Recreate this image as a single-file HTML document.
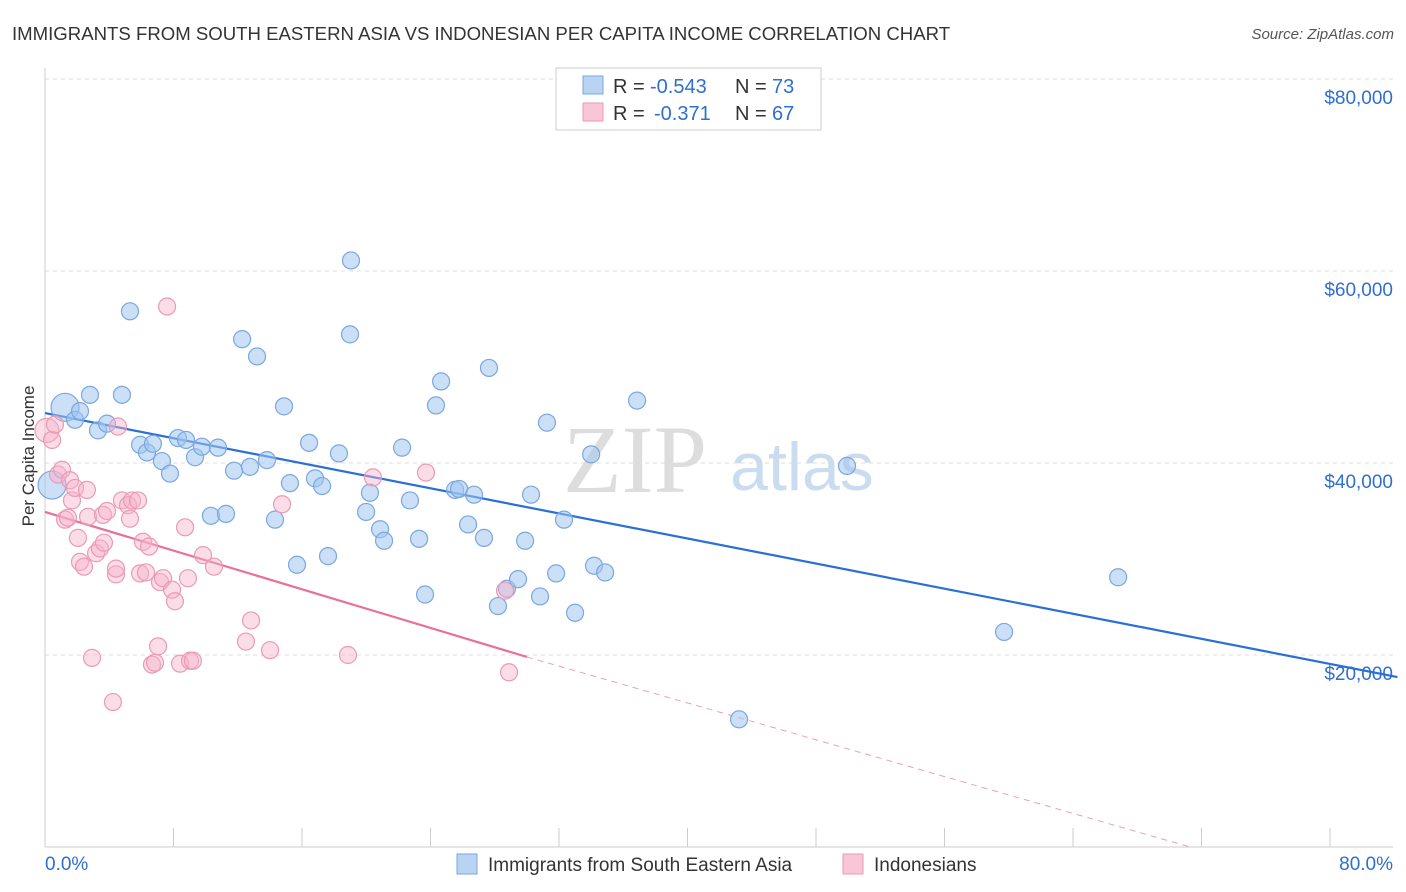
<!DOCTYPE html>
<html><head><meta charset="utf-8">
<style>
body{margin:0;background:#fff;font-family:"Liberation Sans",sans-serif;}
#wrap{position:relative;width:1406px;height:892px;overflow:hidden;}
</style></head>
<body>
<div id="wrap">
<svg id="chart" width="1406" height="892" xmlns="http://www.w3.org/2000/svg">
<text x="12" y="40" font-size="18.6" fill="#333">IMMIGRANTS FROM SOUTH EASTERN ASIA VS INDONESIAN PER CAPITA INCOME CORRELATION CHART</text>
<text x="1394" y="39" font-size="15" fill="#555" text-anchor="end" font-style="italic">Source: ZipAtlas.com</text>
<text x="34" y="456" font-size="17" fill="#333" text-anchor="middle" transform="rotate(-90 34 456)">Per Capita Income</text>
<text x="635" y="492" font-size="96" fill="#ddd" font-family="Liberation Serif,serif" text-anchor="middle">ZIP</text>
<text x="802" y="490" font-size="68" fill="#c9dcf0" text-anchor="middle">atlas</text>
<g id="grid"></g>
<g id="axes"></g>
<g id="trend"></g>
<g id="pts"></g>
<g>
<rect x="556" y="68" width="265" height="62" fill="#fff" stroke="#ccc"/>
<rect x="583" y="76" width="20" height="18" fill="#b9d3f3" stroke="#7aa7e0"/>
<rect x="583" y="103" width="20" height="18" fill="#f8c6d6" stroke="#ea9ab5"/>
<text x="613" y="93" font-size="20" fill="#333">R =</text>
<text x="650" y="93" font-size="20" fill="#2f6fd0">-0.543</text>
<text x="735" y="93" font-size="20" fill="#333">N =</text>
<text x="772" y="93" font-size="20" fill="#2f6fd0">73</text>
<text x="613" y="120" font-size="20" fill="#333">R =</text>
<text x="654" y="120" font-size="20" fill="#2f6fd0">-0.371</text>
<text x="735" y="120" font-size="20" fill="#333">N =</text>
<text x="772" y="120" font-size="20" fill="#2f6fd0">67</text>
</g>
<g>
<rect x="457" y="854" width="20" height="20" fill="#b9d3f3" stroke="#7aa7e0"/>
<text x="488" y="871" font-size="19" fill="#333">Immigrants from South Eastern Asia</text>
<rect x="843" y="854" width="20" height="20" fill="#f8c6d6" stroke="#ea9ab5"/>
<text x="874" y="871" font-size="19" fill="#333">Indonesians</text>
</g>
</svg>
</div>
<script>
const yTicks=[20000,40000,60000,80000];
const yTickLabels=["$20,000","$40,000","$60,000","$80,000"];
const xTickLabels=["0.0%","80.0%"];
const blueX=[0.44,1.25,1.87,2.18,2.80,3.30,3.86,4.79,5.29,5.92,6.35,6.72,7.28,7.78,8.28,8.78,9.34,9.77,10.33,10.77,11.27,11.77,12.27,12.76,13.20,13.82,14.32,14.88,15.25,15.69,16.44,16.81,17.25,17.62,18.30,19.05,18.99,19.99,20.23,20.86,21.11,22.23,22.72,23.29,23.66,24.34,24.66,25.53,25.78,26.34,26.71,27.33,27.64,28.20,28.76,29.45,29.89,30.26,30.82,31.25,31.82,32.31,33.00,34.00,34.18,34.87,36.86,43.21,49.93,59.71,66.81];
const blueY=[37700,45800,44500,45400,47100,43400,44100,47100,55800,41900,41100,42000,40200,38900,42600,42400,40600,41700,34500,41600,34700,39200,52900,39600,51100,40300,34100,45900,37900,29400,42100,38400,37600,30300,41000,61100,53400,34900,36900,33100,31900,41600,36100,32100,26300,46000,48500,37200,37300,33600,36700,32200,49900,25100,26900,27900,31900,36700,26100,44200,28500,34100,24400,40900,29300,28600,46500,13300,39700,22400,28100];
const pinkX=[0.12,0.44,0.62,0.81,1.06,1.25,1.43,1.56,1.68,1.87,2.05,2.18,2.43,2.61,2.68,2.93,3.18,3.42,3.61,3.67,3.86,4.23,4.42,4.42,4.54,4.79,5.17,5.29,5.42,5.79,5.92,6.10,6.29,6.48,6.66,6.85,7.04,7.16,7.35,7.60,7.91,8.09,8.41,8.72,8.90,9.03,9.21,9.84,10.52,12.51,12.83,14.01,14.76,18.86,20.42,23.72,28.64,28.89];
const pinkY=[43400,42400,44000,38800,39300,34100,34300,38200,36100,37400,32200,29700,29200,37200,34400,19700,30600,31100,34600,31700,35000,15100,28400,29000,43800,36100,35600,34200,36100,36100,28500,31800,28600,31300,19000,19200,20900,27600,28000,56300,26800,25600,19100,33300,28000,19400,19400,30400,29200,21400,23600,20500,35700,20000,38500,39000,26700,18200];
const blueBig=[0,1];
const pinkBig=[0];
const blueTrend=[45200,17700];
const pinkTrend=[34900,19800];
const pinkSolidEnd=30;
const pinkDashEnd=71.3;

const NS="http://www.w3.org/2000/svg";
const X0=45,X1=1330,Y0=847,YPER=192/20000;
const sx=v=>X0+(v/80)*(X1-X0);
const sy=v=>Y0-v*YPER;
function mk(tag,attrs,parent){const e=document.createElementNS(NS,tag);for(const k in attrs)e.setAttribute(k,attrs[k]);parent.appendChild(e);return e;}
const grid=document.getElementById('grid'),axes=document.getElementById('axes'),trend=document.getElementById('trend'),pts=document.getElementById('pts');
yTicks.forEach((t,i)=>{
 const l=mk('line',{x1:45,x2:1393,y1:sy(t),y2:sy(t),stroke:'#ddd','stroke-dasharray':'4,4'},grid);
 
 
 const tx=mk('text',{x:1393,y:sy(t)+25,'font-size':19,fill:'#2f6fd0','text-anchor':'end'},axes);
 tx.textContent=yTickLabels[i];
 
 
});
const yl=mk('line',{x1:45,x2:45,y1:68,y2:847,stroke:'#ccc'},axes);


const xl=mk('line',{x1:45,x2:1393,y1:847,y2:847,stroke:'#ccc'},axes);


for(let i=0;i<=10;i++){
 const t=mk('line',{x1:sx(i*8),x2:sx(i*8),y1:828,y2:847,stroke:'#ccc'},axes);
 
 
}
[[0,'start',45],[80,'end',1393]].forEach((a,i)=>{
 const tx=mk('text',{x:a[2],y:870,'font-size':19,fill:'#2f6fd0','text-anchor':a[1]},axes);
 tx.textContent=xTickLabels[i];
 
 
});
const bl=v=>blueTrend[0]+(blueTrend[1]-blueTrend[0])*v/84.2;
const pl=v=>pinkTrend[0]+(pinkTrend[1]-pinkTrend[0])*v/pinkSolidEnd;
const b=mk('line',{x1:sx(0),y1:sy(bl(0)),x2:sx(84.2),y2:sy(bl(84.2)),stroke:'#2a6fd6','stroke-width':2.2},trend);


const p=mk('line',{x1:sx(0),y1:sy(pl(0)),x2:sx(pinkSolidEnd),y2:sy(pl(pinkSolidEnd)),stroke:'#e8709a','stroke-width':2.2},trend);


const pd=mk('line',{x1:sx(pinkSolidEnd),y1:sy(pl(pinkSolidEnd)),x2:sx(pinkDashEnd),y2:sy(0),stroke:'#eaa0b8','stroke-width':1,'stroke-dasharray':'6,5'},trend);


blueX.forEach((v,i)=>{
 const c=mk('circle',{cx:sx(v),cy:sy(blueY[i]),r:blueBig.includes(i)?14:8.5,fill:'rgba(160,196,240,0.55)',stroke:'#7aa7e0','stroke-width':1.2},pts);
 
 
});
pinkX.forEach((v,i)=>{
 const c=mk('circle',{cx:sx(v),cy:sy(pinkY[i]),r:pinkBig.includes(i)?12:8.5,fill:'rgba(246,180,202,0.45)',stroke:'#ea9ab5','stroke-width':1.2},pts);
 
 
});
</script>
</body></html>
